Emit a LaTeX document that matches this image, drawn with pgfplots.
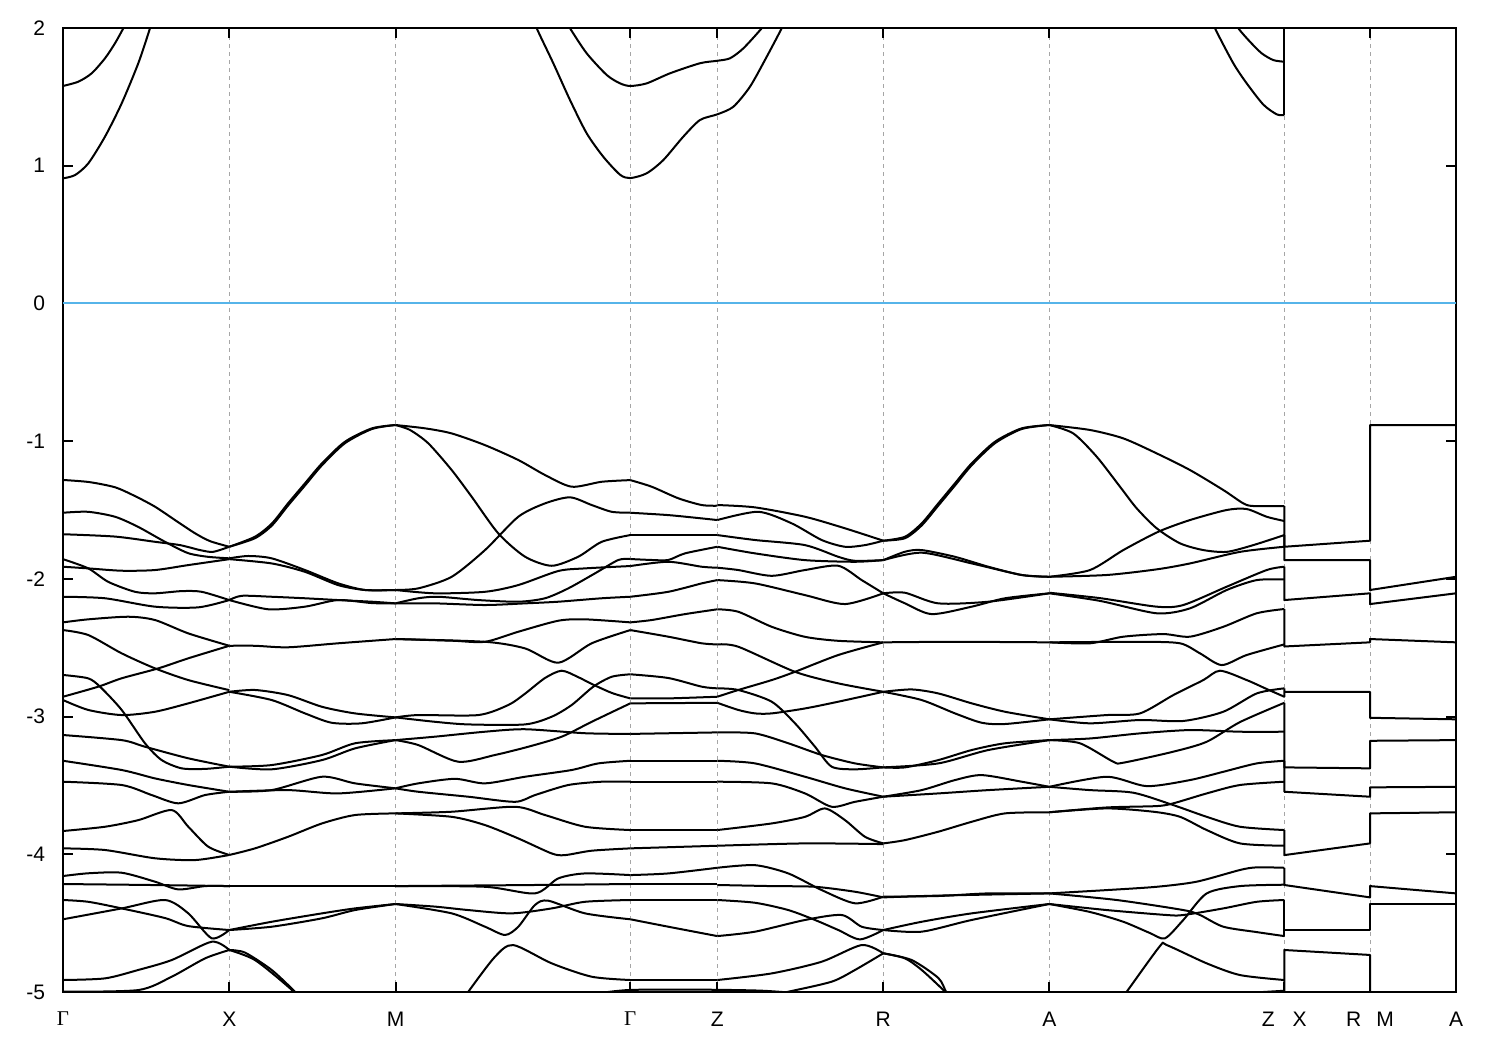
\documentclass[border=0pt]{standalone}
\usepackage{fontspec}
\setmainfont{Liberation Sans}
\newfontfamily\gfont{Liberation Serif}
\usepackage{pgfplots}
\pgfplotsset{compat=1.18}
\definecolor{fermi}{HTML}{56B4E9}
\newcommand{\G}{{\gfont Γ}}
\tikzset{band/.style={smooth, tension=0.45}}
\newcommand{\bd}[1]{\addplot[band] coordinates {#1};}
\newcommand{\st}[1]{\addplot[sharp plot] coordinates {#1};}
\begin{document}
\begin{tikzpicture}
\begin{axis}[
 scale only axis, width=696.5pt, height=482pt,
 xmin=63, xmax=1456, ymin=-5, ymax=2,
 xtick={63,229.3,395.5,630.3,717.3,883.3,1049.3,1284.3,1370,1456},
 xticklabels={\G,X,M,\G,Z,R,A,Z\hspace{9pt}X,R\hspace{7.5pt}M,A},
 ytick={-5,-4,-3,-2,-1,0,1,2},
 yticklabels={-5,-4,-3,-2,-1,0,1,2},
 tick align=inside, major tick length=5pt,
 major tick style={black, line width=1pt},
 axis line style={line width=1pt, black},
 xmajorgrids, grid style={gray!70, line width=0.5pt, dash pattern=on 2pt off 2pt},
 tick label style={font=\fontsize{10.5}{12}\selectfont},
 xticklabel style={yshift=-6.5pt},
 yticklabel style={xshift=-5.5pt},
 every axis plot/.append style={black, line width=1pt, line join=round, no markers},
]
\addplot[fermi, line width=1pt] coordinates {(63,0) (1456,0)};
% conduction bands
\bd{(63,0.908) (75,0.932) (88.3,1.017) (105,1.211) (121.7,1.453) (138.3,1.744) (150,1.998) (154,2.1)}
\bd{(63,1.579) (78.3,1.610) (91.7,1.671) (105,1.780) (115,1.889) (123.3,1.998) (127,2.06)}
\bd{(532,2.1) (536.7,1.998) (553.3,1.744) (570,1.477) (586.7,1.235) (603.3,1.065) (620,0.935) (630.3,0.910) (646.7,0.945) (663.3,1.041) (683.3,1.211) (700,1.332) (717.3,1.373) (733.3,1.428) (750,1.574) (766.7,1.791) (781.7,1.998) (785,2.06)}
\bd{(566,2.05) (570,1.998) (586.7,1.816) (606.7,1.659) (620,1.598) (630.3,1.579) (646.7,1.598) (670,1.671) (700,1.744) (717.3,1.762) (730,1.780) (743.3,1.852) (761.7,1.998) (766,2.05)}
\bd{(1212,2.08) (1215,1.998) (1233.3,1.744) (1246.7,1.598) (1263.3,1.444) (1276.7,1.373) (1284.3,1.368)}
\bd{(1235,2.06) (1238.3,1.998) (1250,1.900) (1261.7,1.816) (1273.3,1.767) (1284.3,1.755)}
\st{(1284.3,1.368) (1284.3,2.2)}
% Gamma - X
\bd{(63,-1.282) (89,-1.297) (115,-1.335) (135,-1.399) (155,-1.476) (175,-1.573) (195,-1.669) (210,-1.726) (229.3,-1.767)}
\bd{(63,-1.520) (88,-1.513) (115,-1.549) (138,-1.622) (165,-1.731) (188,-1.813) (208,-1.840) (229.3,-1.851)}
\bd{(63,-1.676) (115,-1.693) (155,-1.731) (180,-1.755) (200,-1.791) (213,-1.804) (229.3,-1.767)}
\bd{(63,-1.857) (88.3,-1.924) (108.3,-2.022) (135,-2.094) (155,-2.105) (181.7,-2.089) (201.7,-2.094) (229.3,-2.154)}
\bd{(63,-1.912) (88.3,-1.924) (121.7,-1.941) (155,-1.936) (188.3,-1.900) (229.3,-1.857)}
\bd{(63,-2.130) (105,-2.141) (155,-2.202) (198.3,-2.207) (229.3,-2.154)}
\bd{(63,-2.316) (88.3,-2.294) (128.3,-2.275) (155,-2.299) (188.3,-2.396) (229.3,-2.486)}
\bd{(63,-2.372) (88.3,-2.408) (121.7,-2.541) (155,-2.650) (188.3,-2.735) (229.3,-2.808)}
\bd{(63,-2.698) (88,-2.722) (100,-2.783) (121.7,-2.952) (145,-3.194) (161.7,-3.316) (181.7,-3.376) (205,-3.38) (229.3,-3.364)}
\bd{(63,-2.856) (98.3,-2.783) (121.7,-2.722) (158.3,-2.650) (188.3,-2.577) (229.3,-2.486)}
\bd{(63,-2.880) (88.3,-2.952) (121.7,-2.989) (155,-2.965) (188.3,-2.904) (229.3,-2.820)}
\bd{(63,-3.134) (121.7,-3.171) (145,-3.219) (188.3,-3.303) (229.3,-3.364)}
\bd{(63,-3.321) (121.7,-3.388) (155,-3.449) (188.3,-3.497) (229.3,-3.546)}
\bd{(63,-3.473) (121.7,-3.497) (151.7,-3.570) (178.3,-3.630) (205,-3.570) (229.3,-3.546)}
\bd{(63,-3.831) (105,-3.800) (138.3,-3.752) (171.7,-3.679) (188.3,-3.800) (208.3,-3.945) (229.3,-4.005)}
\bd{(63,-3.957) (105,-3.969) (155,-4.029) (195,-4.042) (229.3,-4.005)}
\bd{(63,-4.158) (88.3,-4.138) (121.7,-4.134) (155,-4.199) (178.3,-4.255) (205,-4.231) (229.3,-4.231)}
\bd{(63,-4.216) (150,-4.223) (229.3,-4.231)}
\bd{(63,-4.332) (88.3,-4.345) (121.7,-4.393) (165,-4.463) (188,-4.521) (229.3,-4.550)}
\bd{(63,-4.472) (121.7,-4.393) (165,-4.332) (188.3,-4.429) (211.7,-4.610) (229.3,-4.550)}
\bd{(63,-4.913) (105,-4.901) (138.3,-4.840) (171.7,-4.768) (211.7,-4.635) (229.3,-4.695)}
\bd{(63,-4.998) (138.3,-4.986) (171.7,-4.889) (205,-4.756) (229.3,-4.695)}
% X - M
\bd{(229.3,-1.767) (255,-1.694) (272,-1.597) (288,-1.452) (305,-1.306) (322,-1.161) (345,-1.004) (372,-0.907) (395.5,-0.883)}
\bd{(229.3,-1.767) (255,-1.705) (272,-1.612) (288,-1.468) (305,-1.322) (322,-1.175) (345,-1.015) (372,-0.912) (395.5,-0.883)}
\bd{(229.3,-1.851) (248.3,-1.834) (271.7,-1.851) (305,-1.936) (338,-2.032) (365,-2.081) (395.5,-2.081)}
\bd{(229.3,-1.857) (271.7,-1.888) (305,-1.949) (338,-2.045) (365,-2.081) (395.5,-2.081)}
\bd{(229.3,-2.154) (241.7,-2.123) (271.7,-2.130) (305,-2.141) (338,-2.154) (372,-2.166) (395.5,-2.178)}
\bd{(229.3,-2.154) (268.3,-2.221) (305,-2.202) (338,-2.154) (372,-2.176) (395.5,-2.178)}
\bd{(229.3,-2.486) (255,-2.486) (288,-2.497) (338,-2.468) (395.5,-2.437)}
\bd{(229.3,-2.820) (255,-2.807) (288,-2.844) (322,-2.929) (355,-2.977) (395.5,-3.006)}
\bd{(229.3,-2.820) (271.7,-2.880) (305,-2.977) (331.7,-3.045) (361.7,-3.049) (395.5,-3.006)}
\bd{(229.3,-3.364) (271.7,-3.352) (322,-3.279) (355,-3.194) (395.5,-3.171)}
\bd{(229.3,-3.364) (271.7,-3.383) (322,-3.316) (355,-3.231) (395.5,-3.171)}
\bd{(229.3,-3.546) (271.7,-3.534) (322,-3.437) (355,-3.485) (395.5,-3.521)}
\bd{(229.3,-3.546) (288,-3.534) (338,-3.558) (395.5,-3.521)}
\bd{(229.3,-4.005) (255,-3.957) (288,-3.873) (322,-3.776) (355,-3.715) (395.5,-3.703)}
\bd{(229.3,-4.231) (395.5,-4.231)}
\bd{(229.3,-4.550) (271.7,-4.490) (322,-4.429) (355,-4.393) (395.5,-4.361)}
\bd{(229.3,-4.550) (271.7,-4.526) (322,-4.465) (355,-4.405) (395.5,-4.361)}
\bd{(229.3,-4.695) (255,-4.768) (288.3,-4.962) (300,-5.05)}
\bd{(229.3,-4.695) (245,-4.714) (271.7,-4.840) (295,-4.998) (300,-5.04)}
% M - Gamma
\bd{(395.5,-0.883) (425,-0.907) (451.7,-0.944) (485,-1.029) (518.3,-1.137) (545,-1.246) (571.7,-1.331) (601.7,-1.295) (630.3,-1.283)}
\bd{(395.5,-0.883) (410,-0.919) (428.3,-1.016) (451.7,-1.210) (471.7,-1.404) (498.3,-1.670) (525,-1.839) (551.7,-1.905) (578.3,-1.839) (601.7,-1.731) (630.3,-1.682)}
\bd{(395.5,-2.081) (418.3,-2.069) (451.7,-1.985) (485,-1.791) (518.3,-1.549) (545,-1.452) (570,-1.408) (591.7,-1.464) (611.7,-1.513) (630.3,-1.520)}
\bd{(395.5,-2.081) (435,-2.105) (485,-2.094) (518.3,-2.045) (558.3,-1.943) (585,-1.924) (630.3,-1.907)}
\bd{(395.5,-2.178) (418.3,-2.141) (438.3,-2.130) (478.3,-2.154) (518.3,-2.166) (545,-2.141) (568.3,-2.069) (595,-1.960) (618.3,-1.863) (630.3,-1.856)}
\bd{(395.5,-2.178) (435,-2.178) (485,-2.190) (525,-2.178) (558.3,-2.166) (601.7,-2.141) (630.3,-2.130)}
\bd{(395.5,-2.437) (451.7,-2.449) (485,-2.457) (518.3,-2.384) (558.3,-2.304) (585,-2.294) (630.3,-2.316)}
\bd{(395.5,-2.437) (485,-2.457) (525,-2.505) (558.3,-2.609) (591.7,-2.468) (630.3,-2.372)}
\bd{(395.5,-3.006) (418.3,-2.989) (478.3,-2.989) (508.3,-2.916) (525,-2.834) (545,-2.720) (561.7,-2.667) (578,-2.713) (592,-2.764) (612,-2.829) (630.3,-2.868)}
\bd{(395.5,-3.006) (435,-3.038) (468.3,-3.057) (525,-3.057) (551.7,-3.001) (571.7,-2.916) (593.3,-2.783) (611.7,-2.711) (630.3,-2.693)}
\bd{(395.5,-3.171) (418.3,-3.207) (458.3,-3.328) (495,-3.279) (528.3,-3.219) (561.7,-3.146) (591.7,-3.038) (630.3,-2.904)}
\bd{(395.5,-3.171) (435,-3.146) (485,-3.110) (525,-3.092) (585,-3.121) (630.3,-3.126)}
\bd{(395.5,-3.521) (418.3,-3.485) (455,-3.452) (485,-3.485) (525,-3.437) (571.7,-3.388) (598.3,-3.340) (630.3,-3.321)}
\bd{(395.5,-3.521) (418.3,-3.546) (468.3,-3.582) (515,-3.619) (535,-3.570) (568.3,-3.497) (601.7,-3.473) (630.3,-3.473)}
\bd{(395.5,-3.703) (451.7,-3.691) (515,-3.655) (545,-3.715) (585,-3.800) (630.3,-3.824)}
\bd{(395.5,-3.703) (451.7,-3.728) (485,-3.788) (518.3,-3.885) (551.7,-3.994) (565,-4.006) (591.7,-3.974) (630.3,-3.957)}
\bd{(395.5,-4.231) (485,-4.236) (535,-4.284) (558.3,-4.175) (585,-4.139) (630.3,-4.151)}
\bd{(395.5,-4.231) (520,-4.224) (630.3,-4.216)}
\bd{(395.5,-4.361) (435,-4.380) (468.3,-4.405) (511.7,-4.429) (551.7,-4.393) (585,-4.345) (630.3,-4.332)}
\bd{(395.5,-4.361) (451.7,-4.429) (485,-4.526) (505,-4.586) (518.3,-4.526) (535,-4.368) (548.3,-4.337) (585,-4.429) (630.3,-4.472)}
\bd{(463,-5.06) (468.3,-4.998) (495,-4.744) (513.3,-4.659) (551.7,-4.792) (591.7,-4.889) (630.3,-4.913)}
\bd{(598,-5.01) (630.3,-4.985) (700,-4.983) (760,-4.99) (800,-5.01)}
% Gamma - Z
\bd{(630.3,-1.283) (651.7,-1.331) (678.3,-1.415) (701.7,-1.464) (717.3,-1.469)}
\bd{(630.3,-1.682) (717.3,-1.682)}
\bd{(630.3,-1.520) (668.3,-1.537) (701.7,-1.561) (717.3,-1.573)}
\bd{(630.3,-1.907) (668.3,-1.876) (701.7,-1.912) (717.3,-1.919)}
\bd{(630.3,-1.856) (651.7,-1.863) (668.3,-1.863) (685,-1.815) (717.3,-1.767)}
\bd{(630.3,-2.130) (668.3,-2.094) (701.7,-2.033) (717.3,-2.009)}
\bd{(630.3,-2.316) (651.7,-2.299) (685,-2.256) (717.3,-2.221)}
\bd{(630.3,-2.372) (668.3,-2.420) (701.7,-2.468) (717.3,-2.476)}
\bd{(630.3,-2.693) (668.3,-2.720) (701.7,-2.783) (717.3,-2.795)}
\bd{(630.3,-2.868) (668.3,-2.868) (717.3,-2.856)}
\bd{(630.3,-2.904) (717.3,-2.900)}
\bd{(630.3,-3.126) (717.3,-3.115)}
\bd{(630.3,-3.321) (717.3,-3.321)}
\bd{(630.3,-3.473) (717.3,-3.473)}
\bd{(630.3,-3.824) (717.3,-3.824)}
\bd{(630.3,-3.957) (717.3,-3.938)}
\bd{(630.3,-4.151) (668.3,-4.139) (717.3,-4.098)}
\bd{(630.3,-4.216) (717.3,-4.216)}
\bd{(630.3,-4.332) (717.3,-4.332)}
\bd{(630.3,-4.472) (668.3,-4.526) (717.3,-4.594)}
\bd{(630.3,-4.913) (717.3,-4.913)}
% Z - R
\bd{(717.3,-1.464) (755,-1.481) (805,-1.549) (845,-1.633) (883.3,-1.723)}
\bd{(717.3,-1.573) (758.3,-1.513) (791.7,-1.597) (821.7,-1.718) (845,-1.767) (865,-1.755) (883.3,-1.723)}
\bd{(717.3,-1.682) (755,-1.718) (805,-1.755) (838.3,-1.840) (855,-1.869) (883.3,-1.864)}
\bd{(717.3,-1.767) (755,-1.815) (805,-1.864) (855,-1.876) (883.3,-1.864)}
\bd{(717.3,-1.919) (738.3,-1.936) (771.7,-1.978) (805,-1.936) (838.3,-1.905) (861.7,-2.009) (883.3,-2.105)}
\bd{(717.3,-2.009) (755,-2.033) (805,-2.118) (845,-2.183) (883.3,-2.105)}
\bd{(717.3,-2.221) (738.3,-2.239) (771.7,-2.348) (805,-2.421) (838.3,-2.450) (883.3,-2.461)}
\bd{(717.3,-2.476) (738.3,-2.493) (795,-2.675) (838.3,-2.759) (883.3,-2.820)}
\bd{(717.3,-2.856) (738.3,-2.807) (771.7,-2.735) (795,-2.675) (838.3,-2.553) (883.3,-2.461)}
\bd{(717.3,-2.795) (738.3,-2.807) (771.7,-2.892) (795,-3.049) (815,-3.219) (831.7,-3.364) (855,-3.383) (883.3,-3.369)}
\bd{(717.3,-2.900) (738.3,-2.952) (755,-2.977) (771.7,-2.977) (805,-2.941) (838.3,-2.892) (883.3,-2.820)}
\bd{(717.3,-3.115) (755,-3.122) (788.3,-3.194) (821.7,-3.279) (855,-3.340) (883.3,-3.369)}
\bd{(717.3,-3.321) (755,-3.340) (805,-3.437) (845,-3.521) (883.3,-3.582)}
\bd{(717.3,-3.473) (771.7,-3.485) (805,-3.558) (831.7,-3.655) (855,-3.619) (883.3,-3.582)}
\bd{(717.3,-3.824) (771.7,-3.776) (805,-3.728) (825,-3.667) (845,-3.752) (865,-3.873) (883.3,-3.921)}
\bd{(717.3,-3.938) (805,-3.921) (883.3,-3.926)}
\bd{(717.3,-4.098) (755,-4.079) (788.3,-4.139) (821.7,-4.260) (855,-4.356) (883.3,-4.308)}
\bd{(717.3,-4.223) (771.7,-4.231) (815,-4.236) (855,-4.272) (883.3,-4.313)}
\bd{(717.3,-4.332) (755,-4.352) (788.3,-4.405) (815,-4.477) (838.3,-4.550) (860,-4.618) (883.3,-4.550)}
\bd{(717.3,-4.594) (755,-4.562) (805,-4.477) (841.7,-4.441) (861.7,-4.526) (883.3,-4.550)}
\bd{(717.3,-4.913) (771.7,-4.865) (821.7,-4.780) (861.7,-4.659) (883.3,-4.719)}
\bd{(780,-5.01) (788.3,-4.998) (831.7,-4.925) (855,-4.840) (883.3,-4.719)}
% R - A
\bd{(883.3,-1.723) (905,-1.694) (921.7,-1.597) (938.3,-1.452) (955,-1.306) (971.7,-1.161) (995,-1.004) (1021.7,-0.907) (1049.3,-0.883)}
\bd{(883.3,-1.723) (905,-1.705) (921.7,-1.612) (938.3,-1.468) (955,-1.322) (971.7,-1.175) (995,-1.015) (1021.7,-0.912) (1049.3,-0.883)}
\bd{(883.3,-1.864) (905,-1.803) (921.7,-1.791) (955,-1.840) (988.3,-1.912) (1021.7,-1.972) (1049.3,-1.985)}
\bd{(883.3,-1.864) (921.7,-1.810) (971.7,-1.888) (1021.7,-1.972) (1049.3,-1.985)}
\bd{(883.3,-2.105) (905,-2.178) (931.7,-2.256) (971.7,-2.202) (1005,-2.141) (1049.3,-2.105)}
\bd{(883.3,-2.105) (905,-2.101) (938.3,-2.178) (988.3,-2.166) (1049.3,-2.105)}
\bd{(883.3,-2.461) (955,-2.457) (1049.3,-2.461)}
\bd{(883.3,-2.820) (911.7,-2.803) (938.3,-2.832) (971.7,-2.904) (1005,-2.965) (1049.3,-3.020)}
\bd{(883.3,-2.820) (921.7,-2.880) (955,-2.977) (981.7,-3.045) (1005,-3.054) (1049.3,-3.020)}
\bd{(883.3,-3.369) (905,-3.369) (938.3,-3.316) (971.7,-3.243) (1005,-3.194) (1049.3,-3.171)}
\bd{(883.3,-3.369) (938.3,-3.340) (988.3,-3.243) (1049.3,-3.171)}
\bd{(883.3,-3.582) (921.7,-3.534) (955,-3.461) (981.7,-3.425) (1021.7,-3.473) (1049.3,-3.510)}
\bd{(883.3,-3.582) (938.3,-3.558) (988.3,-3.534) (1049.3,-3.510)}
\bd{(883.3,-3.921) (905,-3.897) (938.3,-3.836) (971.7,-3.764) (1005,-3.703) (1049.3,-3.695)}
\bd{(883.3,-4.308) (938.3,-4.303) (988.3,-4.284) (1049.3,-4.284)}
\bd{(883.3,-4.313) (938.3,-4.300) (1049.3,-4.284)}
\bd{(883.3,-4.550) (921.7,-4.490) (971.7,-4.429) (1049.3,-4.361)}
\bd{(883.3,-4.550) (921.7,-4.562) (971.7,-4.477) (1049.3,-4.361)}
\bd{(883.3,-4.719) (905,-4.756) (921.7,-4.840) (945,-4.998) (950,-5.05)}
\bd{(883.3,-4.719) (911.7,-4.768) (938.3,-4.898) (946,-4.998) (951,-5.05)}
% A - Z
\bd{(1049.3,-0.883) (1090,-0.919) (1123.3,-0.980) (1156.7,-1.089) (1190,-1.210) (1223.3,-1.355) (1243.3,-1.452) (1253.3,-1.471) (1284.3,-1.471)}
\bd{(1049.3,-0.883) (1073.3,-0.944) (1096.7,-1.113) (1120,-1.331) (1136.7,-1.488) (1156.7,-1.633) (1180,-1.742) (1203.3,-1.791) (1226.7,-1.804) (1253.3,-1.755) (1284.3,-1.682)}
\bd{(1049.3,-1.985) (1090,-1.936) (1123.3,-1.791) (1158.3,-1.658) (1190,-1.573) (1226.7,-1.500) (1246.7,-1.493) (1266.7,-1.549) (1284.3,-1.580)}
\bd{(1049.3,-1.985) (1106.7,-1.972) (1156.7,-1.931) (1190,-1.888) (1240,-1.804) (1284.3,-1.767)}
\bd{(1049.3,-2.101) (1100,-2.14) (1156.7,-2.202) (1183.3,-2.190) (1226.7,-2.057) (1266.7,-1.936) (1284.3,-1.912)}
\bd{(1049.3,-2.105) (1100,-2.16) (1156.7,-2.250) (1190,-2.214) (1226.7,-2.081) (1256.7,-2.009) (1284.3,-2.004)}
\bd{(1049.3,-2.461) (1090,-2.468) (1123.3,-2.420) (1163.3,-2.401) (1190,-2.420) (1223.3,-2.348) (1256.7,-2.250) (1284.3,-2.219)}
\bd{(1049.3,-2.461) (1140,-2.457) (1180,-2.468) (1200,-2.541) (1221.7,-2.626) (1246.7,-2.553) (1284.3,-2.476)}
\bd{(1049.3,-3.020) (1106.7,-2.989) (1140,-2.977) (1173.3,-2.844) (1203.3,-2.735) (1220,-2.667) (1246.7,-2.735) (1266.7,-2.80) (1284.3,-2.856)}
\bd{(1049.3,-3.020) (1090,-3.049) (1140,-3.025) (1183.3,-3.032) (1223.3,-2.965) (1256.7,-2.832) (1284.3,-2.795)}
\bd{(1049.3,-3.171) (1080,-3.194) (1113.3,-3.328) (1123.3,-3.335) (1173.3,-3.255) (1206.7,-3.183) (1240,-3.040) (1284.3,-2.900)}
\bd{(1049.3,-3.171) (1090,-3.159) (1140,-3.122) (1190,-3.098) (1240,-3.110) (1284.3,-3.110)}
\bd{(1049.3,-3.510) (1106.7,-3.437) (1146.7,-3.505) (1190,-3.461) (1223.3,-3.401) (1256.7,-3.340) (1284.3,-3.321)}
\bd{(1049.3,-3.510) (1090,-3.534) (1133.3,-3.553) (1173.3,-3.643) (1206.7,-3.728) (1240,-3.800) (1284.3,-3.824)}
\bd{(1049.3,-3.695) (1106.7,-3.667) (1153.3,-3.691) (1180,-3.728) (1206.7,-3.824) (1240,-3.921) (1284.3,-3.938)}
\bd{(1049.3,-3.695) (1106.7,-3.660) (1156.7,-3.650) (1173.3,-3.630) (1206.7,-3.558) (1240,-3.497) (1284.3,-3.473)}
\bd{(1049.3,-4.284) (1106.7,-4.260) (1156.7,-4.236) (1196.7,-4.199) (1240,-4.114) (1256.7,-4.095) (1284.3,-4.098)}
\bd{(1049.3,-4.284) (1116.7,-4.332) (1183.3,-4.405) (1200,-4.441) (1223.3,-4.526) (1256.7,-4.565) (1284.3,-4.594)}
\bd{(1049.3,-4.361) (1106.7,-4.405) (1166.7,-4.441) (1183.3,-4.441) (1223.3,-4.393) (1256.7,-4.345) (1284.3,-4.332)}
\bd{(1049.3,-4.361) (1090,-4.419) (1123.3,-4.490) (1150,-4.572) (1165,-4.610) (1183.3,-4.477) (1206.7,-4.284) (1240,-4.231) (1284.3,-4.221)}
\bd{(1122,-5.04) (1126.7,-4.998) (1160,-4.666) (1166.7,-4.659) (1206.7,-4.792) (1240,-4.877) (1284.3,-4.913)}
\bd{(1240,-5.01) (1284.3,-4.991)}
% X - R and M - A (with jumps)
\st{(1284.3,-1.471) (1284.3,-1.767) (1370,-1.723) (1370,-0.883) (1456,-0.883)}
\st{(1284.3,-1.682) (1284.3,-1.864) (1370,-1.864) (1370,-2.081) (1456,-1.985)}
\st{(1284.3,-1.912) (1284.3,-2.154) (1370,-2.105) (1370,-2.183) (1456,-2.105)}
\st{(1284.3,-2.219) (1284.3,-2.491) (1370,-2.461) (1370,-2.437) (1456,-2.461)}
\st{(1284.3,-2.795) (1284.3,-2.856) (1284.3,-2.820) (1370,-2.820) (1370,-3.009) (1456,-3.020)}
\st{(1284.3,-2.900) (1284.3,-3.369) (1370,-3.376) (1370,-3.176) (1456,-3.171)}
\st{(1284.3,-3.321) (1284.3,-3.546) (1370,-3.582) (1370,-3.514) (1456,-3.510)}
\st{(1284.3,-3.824) (1284.3,-4.006) (1370,-3.921) (1370,-3.703) (1456,-3.695)}
\st{(1284.3,-4.098) (1284.3,-4.223) (1370,-4.313) (1370,-4.231) (1456,-4.284)}
\st{(1284.3,-4.332) (1284.3,-4.594) (1284.3,-4.550) (1370,-4.550) (1370,-4.361) (1456,-4.361)}
\st{(1284.3,-4.991) (1284.3,-4.695) (1370,-4.731) (1370,-5.3)}
\end{axis}
\path (current axis.south west) ++(-31.5pt,-29pt) rectangle ++(750pt,525pt);
\end{tikzpicture}
\end{document}
